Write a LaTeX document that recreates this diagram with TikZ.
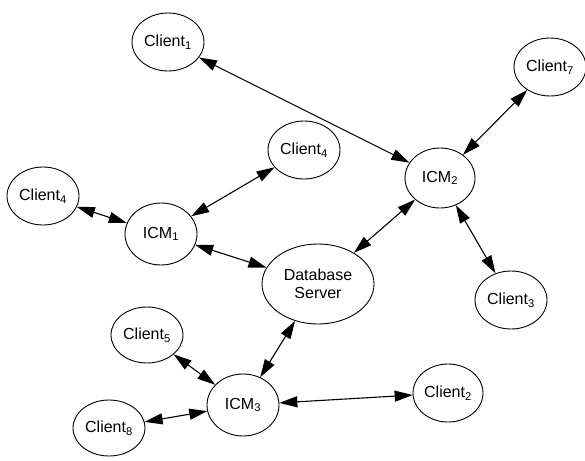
\documentclass[tikz,border=0pt]{standalone}
\usepackage{fontspec}
\setmainfont{Liberation Sans}
\usetikzlibrary{shapes.geometric,arrows.meta}
\newcommand{\nsub}[1]{\textsubscript{#1}}

\begin{document}
\begin{tikzpicture}[x=1pt,y=-1pt]

\tikzstyle{el} = [ellipse, draw=black, line width=0.9pt, minimum width=72pt, minimum height=58pt, inner sep=0pt, align=center, font=\fontsize{16}{18}\selectfont]
\tikzstyle{link} = [{Triangle[length=18pt,width=11pt]}-{Triangle[length=18pt,width=11pt]}, line width=1.1pt]
\useasboundingbox (0,0) rectangle (585,460);
\node (client1) [el] at (168,42) {Client\nsub{1}};
\node (client7) [el] at (550,67) {Client\nsub{7}};
\node (client4a) [el] at (304,150) {Client\nsub{4}};
\node (icm2) [el, minimum width=70pt, minimum height=60pt] at (440,178) {ICM\nsub{2}};
\node (client4b) [el] at (43,196) {Client\nsub{4}};
\node (icm1) [el, minimum height=62pt] at (161,234) {ICM\nsub{1}};
\node (db) [el, minimum width=112pt, minimum height=80pt] at (318,284) {Database\\Server};
\node (client3) [el, minimum height=58pt] at (511,300) {Client\nsub{3}};
\node (client5) [el, minimum height=56pt] at (147,335) {Client\nsub{5}};
\node (icm3) [el, minimum height=62pt] at (243,405) {ICM\nsub{3}};
\node (client2) [el, minimum width=70pt] at (448,393) {Client\nsub{2}};
\node (client8) [el, minimum height=56pt] at (109,428) {Client\nsub{8}};
\draw [link] (client1)--(icm2);
\draw [link] (client7)--(icm2);
\draw [link] (icm2)--(client3);
\draw [link] (icm2)--(db);
\draw [link] (client4a)--(icm1);
\draw [link] (client4b)--(icm1);
\draw [link] (icm1)--(db);
\draw [link] (db)--(icm3);
\draw [link] (client5)--(icm3);
\draw [link] (client8)--(icm3);
\draw [link] (icm3)--(client2);
\end{tikzpicture}
\end{document}
